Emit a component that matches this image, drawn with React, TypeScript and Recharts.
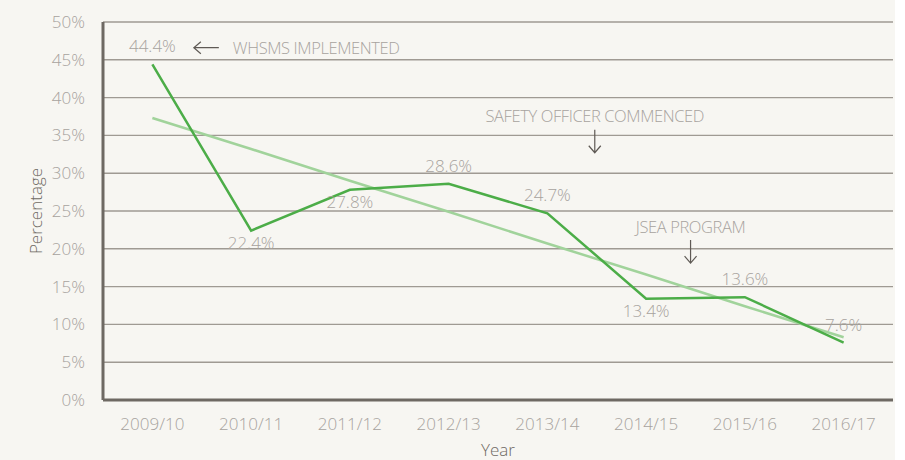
import React from "react";
import {
  LineChart,
  Line,
  XAxis,
  YAxis,
  CartesianGrid,
  ReferenceDot,
  Label,
  LabelList,
} from "recharts";

const years = [
  "2009/10",
  "2010/11",
  "2011/12",
  "2012/13",
  "2013/14",
  "2014/15",
  "2015/16",
  "2016/17",
];
const rates = [44.4, 22.4, 27.8, 28.6, 24.7, 13.4, 13.6, 7.6];
const trend = [37.3, 33.2, 29.0, 24.9, 20.7, 16.6, 12.4, 8.3];
// where each value label sits relative to its point
const labelSide = ["top", "bottom", "bottom", "top", "top", "bottom", "top", "top"];
const yTicks = [0, 5, 10, 15, 20, 25, 30, 35, 40, 45, 50];

type Note = { x: number; y: number; text: string; arrow: "left" | "down" };
const notes: Note[] = [
  { x: 0.42, y: 46.6, text: "WHSMS IMPLEMENTED", arrow: "left" },
  { x: 4.48, y: 37.6, text: "SAFETY OFFICER COMMENCED", arrow: "down" },
  { x: 5.45, y: 23.0, text: "JSEA PROGRAM", arrow: "down" },
];

const data = years.map((year, i) => ({
  idx: i,
  year,
  rate: rates[i],
  trend: trend[i],
}));

const FONT = "'Open Sans', sans-serif";
const FS = 17;
const TEXT_GREY = "#a7a39e";
const DARK = "#6e6963";
const txt = {
  fontFamily: FONT,
  fontSize: FS,
  fontStretch: "89%",
  fontWeight: 300,
};
const noteTxt = { ...txt, fontSize: 16.5, letterSpacing: -0.4 };

const RateLabel = (props: any) => {
  const { x, y, value, index } = props;
  const below = labelSide[index] === "bottom";
  return (
    <text
      x={x}
      y={below ? y + 18 : y - 12}
      textAnchor="middle"
      fill={TEXT_GREY}
      style={txt}
    >
      {`${value}%`}
    </text>
  );
};

const NoteShape = (note: Note) => (props: any) => {
  const { cx, cy } = props;
  const ink = "#5f5a55";
  if (note.arrow === "left") {
    return (
      <g>
        <path
          d={`M${cx + 25},${cy} L${cx},${cy} M${cx + 7},${cy - 6} L${cx},${cy} L${cx + 7},${cy + 6}`}
          stroke={ink}
          strokeWidth={1.2}
          fill="none"
        />
        <text
          x={cx + 39}
          y={cy}
          dominantBaseline="central"
          fill={TEXT_GREY}
          style={noteTxt}
        >
          {note.text}
        </text>
      </g>
    );
  }
  return (
    <g>
      <text
        x={cx}
        y={cy}
        textAnchor="middle"
        dominantBaseline="central"
        fill={TEXT_GREY}
        style={noteTxt}
      >
        {note.text}
      </text>
      <path
        d={`M${cx},${cy + 14} L${cx},${cy + 37} M${cx - 6},${cy + 30} L${cx},${cy + 37} L${cx + 6},${cy + 30}`}
        stroke={ink}
        strokeWidth={1.2}
        fill="none"
      />
    </g>
  );
};

const App = () => {
  return (
    <div
      style={{
        position: "fixed",
        left: 0,
        top: 0,
        width: 905,
        height: 460,
        background: "#ffffff",
      }}
    >
      <div style={{ width: 895, height: 460, background: "#f7f6f2" }}>
        <LineChart
          width={895}
          height={460}
          data={data}
          margin={{ top: 22, right: 2, bottom: 4, left: 0 }}
        >
          <CartesianGrid
            vertical={false}
            stroke="#9f9a93"
            strokeWidth={1.4}
          />
          <XAxis
            dataKey="idx"
            type="number"
            domain={[-0.5, 7.5]}
            ticks={data.map((d) => d.idx)}
            tickFormatter={(v: number) => years[v]}
            tickLine={false}
            axisLine={{ stroke: DARK, strokeWidth: 3 }}
            tick={{ fill: TEXT_GREY, style: txt }}
            tickMargin={12}
            height={56}
            interval={0}
          >
            <Label
              value="Year"
              position="insideBottom"
              offset={0}
              fill={DARK}
              style={txt}
            />
          </XAxis>
          <YAxis
            domain={[0, 50]}
            ticks={yTicks}
            tickFormatter={(v: number) => `${v}%`}
            tickLine={false}
            axisLine={{ stroke: DARK, strokeWidth: 3 }}
            tick={{ fill: TEXT_GREY, style: txt }}
            tickMargin={12}
            width={103}
            interval={0}
          >
            <Label
              value="Percentage"
              angle={-90}
              position="insideLeft"
              offset={36}
              style={{ ...txt, textAnchor: "middle" }}
              fill={DARK}
            />
          </YAxis>
          <Line
            dataKey="trend"
            stroke="#a1d39b"
            strokeWidth={2.5}
            dot={false}
            activeDot={false}
            isAnimationActive={false}
          />
          <Line
            dataKey="rate"
            stroke="#4cad48"
            strokeWidth={2.5}
            dot={false}
            activeDot={false}
            isAnimationActive={false}
          >
            <LabelList dataKey="rate" content={<RateLabel />} />
          </Line>
          {notes.map((n) => (
            <ReferenceDot
              key={n.text}
              x={n.x}
              y={n.y}
              r={0}
              ifOverflow="visible"
              shape={NoteShape(n)}
            />
          ))}
        </LineChart>
      </div>
    </div>
  );
};

export default App;
